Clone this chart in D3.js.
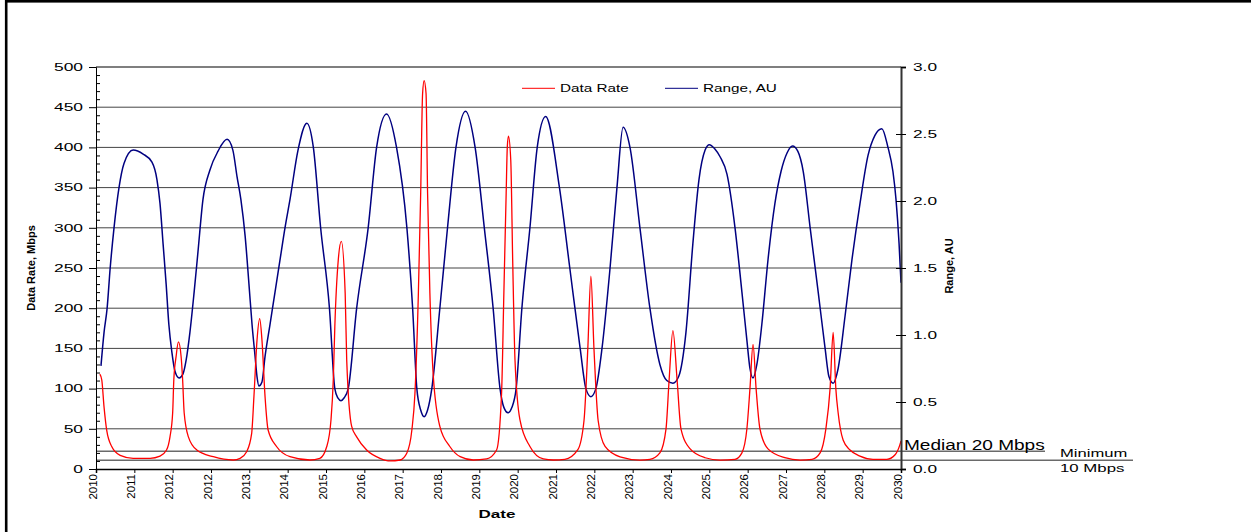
<!DOCTYPE html>
<html>
<head>
<meta charset="utf-8">
<script src="https://cdn.jsdelivr.net/npm/d3@7"></script>
<style>
  body { margin: 0; background: #fff; }
  svg { display: block; font-family: "Liberation Sans", Arial, sans-serif; }
</style>
</head>
<body>
<svg id="chart"></svg>
<script>
// ─── Data ─────────────────────────────────────────────────────────────────────
// x positions are in tick units along the date axis (0 = first label, 21 = last).
const tickLabels = [
  "2010", "2011", "2012", "2012", "2013", "2014", "2015", "2016", "2017", "2018", "2019",
  "2020", "2021", "2022", "2023", "2024", "2025", "2026", "2027", "2028", "2029", "2030"
];
const rateTicks  = [0, 50, 100, 150, 200, 250, 300, 350, 400, 450, 500];
const rangeTicks = [0, 0.5, 1.0, 1.5, 2.0, 2.5, 3.0];

const medianRate  = 22;   // "Median 20 Mbps" reference line
const minimumRate = 11;   // "Minimum 10 Mbps" reference line

// Range, AU (blue, right axis)
const rangeT = [
  0.13, 0.21, 0.29, 0.37, 0.47, 0.60, 0.73, 0.97, 1.23, 1.46, 1.59, 1.67, 1.75, 1.83, 1.90,
  1.98, 2.06, 2.17, 2.27, 2.35, 2.45, 2.56, 2.66, 2.79, 2.97, 3.18, 3.42, 3.57, 3.68, 3.78,
  3.89, 3.99, 4.07, 4.15, 4.20, 4.25, 4.33, 4.41, 4.54, 4.67, 4.80, 4.93, 5.06, 5.27, 5.50,
  5.67, 5.86, 6.09, 6.23, 6.31, 6.39, 6.47, 6.58, 6.80, 7.10, 7.32, 7.58, 7.84, 8.11, 8.26,
  8.37, 8.47, 8.56, 8.65, 8.76, 8.97, 9.17, 9.39, 9.64, 9.89, 10.13, 10.36, 10.54, 10.64, 10.75,
  10.85, 10.96, 11.11, 11.32, 11.51, 11.73, 12.09, 12.36, 12.63, 12.78, 12.91, 13.04, 13.20, 13.41, 13.59,
  13.75, 13.93, 14.19, 14.45, 14.71, 14.89, 15.05, 15.20, 15.39, 15.57, 15.73, 15.89, 16.00, 16.14, 16.28,
  16.46, 16.67, 16.85, 16.98, 17.06, 17.14, 17.24, 17.37, 17.53, 17.71, 17.87, 18.03, 18.17, 18.31, 18.45,
  18.63, 18.84, 19.02, 19.12, 19.23, 19.36, 19.54, 19.72, 19.93, 20.14, 20.32, 20.50, 20.66, 20.79, 20.87,
  20.95, 21.00
];
const rangeAU = [
  0.77, 1.02, 1.20, 1.50, 1.80, 2.10, 2.28, 2.38, 2.35, 2.29, 2.16, 1.98, 1.68, 1.38, 1.08,
  0.87, 0.73, 0.68, 0.71, 0.81, 1.02, 1.32, 1.62, 2.01, 2.23, 2.37, 2.46, 2.38, 2.18, 2.01,
  1.74, 1.38, 1.08, 0.84, 0.69, 0.62, 0.65, 0.84, 1.08, 1.32, 1.56, 1.80, 2.01, 2.38, 2.58,
  2.40, 1.80, 1.20, 0.60, 0.53, 0.51, 0.53, 0.60, 1.20, 1.80, 2.40, 2.65, 2.40, 1.80, 1.20,
  0.60, 0.44, 0.39, 0.44, 0.60, 1.20, 1.80, 2.40, 2.67, 2.40, 1.80, 1.20, 0.60, 0.46, 0.42,
  0.46, 0.60, 1.20, 1.80, 2.40, 2.63, 2.10, 1.50, 0.90, 0.60, 0.54, 0.60, 0.90, 1.50, 2.10,
  2.55, 2.40, 1.80, 1.20, 0.78, 0.66, 0.64, 0.69, 1.02, 1.68, 2.16, 2.38, 2.42, 2.39, 2.33,
  2.20, 1.80, 1.32, 0.96, 0.75, 0.68, 0.78, 1.08, 1.56, 1.98, 2.22, 2.36, 2.41, 2.37, 2.22,
  1.80, 1.32, 0.90, 0.69, 0.64, 0.75, 1.14, 1.56, 1.98, 2.34, 2.49, 2.54, 2.40, 2.22, 2.01,
  1.68, 1.39
];

// Data Rate, Mbps (red, left axis)
const rateT = [
  0.10, 0.15, 0.21, 0.28, 0.41, 0.63, 0.97, 1.41, 1.67, 1.84, 1.93, 2.00, 2.03, 2.09, 2.15,
  2.22, 2.26, 2.30, 2.41, 2.63, 3.06, 3.58, 3.76, 3.93, 4.06, 4.12, 4.20, 4.27, 4.33, 4.41,
  4.49, 4.71, 5.06, 5.58, 5.84, 6.02, 6.13, 6.19, 6.23, 6.32, 6.40, 6.50, 6.54, 6.67, 6.80,
  7.06, 7.41, 7.67, 7.93, 8.11, 8.24, 8.32, 8.41, 8.47, 8.52, 8.56, 8.61, 8.65, 8.71, 8.80,
  8.97, 9.23, 9.50, 9.84, 10.19, 10.45, 10.58, 10.64, 10.70, 10.73, 10.76, 10.82, 10.87, 10.93, 11.06,
  11.32, 11.67, 11.93, 12.23, 12.57, 12.73, 12.83, 12.91, 12.99, 13.10, 13.28, 13.67, 14.19, 14.45, 14.71,
  14.87, 14.95, 15.05, 15.16, 15.26, 15.50, 15.89, 16.28, 16.67, 16.85, 16.98, 17.06, 17.14, 17.22, 17.32,
  17.53, 17.97, 18.37, 18.68, 18.89, 19.04, 19.15, 19.23, 19.30, 19.36, 19.49, 19.67, 19.93, 20.27, 20.63,
  20.84, 20.97, 21.00
];
const rateMbps = [
  118, 111, 77, 48, 28, 17, 13.3, 13.3, 16, 23.6, 40, 70, 111, 140, 158,
  140, 111, 70, 40, 23.6, 15.3, 11.2, 13.3, 21.5, 44, 90, 160, 187, 160, 90,
  48.5, 28, 15.3, 11.2, 13.3, 28, 61, 111, 177, 260, 283, 219, 136, 53, 40,
  23.6, 13.3, 10, 11.2, 20, 48.5, 94, 219, 343, 467, 483, 467, 343, 219, 115,
  53, 28, 15.3, 11.2, 12.5, 23.6, 94, 219, 343, 401, 414, 384, 260, 136, 61,
  28, 12.5, 11.2, 12, 24, 60, 150, 240, 150, 60, 28, 15, 11, 12, 20,
  50, 110, 172, 110, 50, 25, 14, 11, 12, 20, 50, 100, 155, 100, 50,
  25, 14, 11, 12, 20, 50, 100, 170, 100, 70, 36, 23.6, 16, 12, 12,
  17.4, 30, 35
];

// ─── Configuration ────────────────────────────────────────────────────────────
const CONFIG = {
  svg: { width: 1251, height: 532, margin: { top: 67, right: 350, bottom: 63, left: 96 } },
  colors: { rate: "#ff0000", range: "#000080", grid: "#444", refLine: "#6a6a6a" },
  medianLineEnd: 1045,
  minimumLineEnd: 1133
};

const innerW = CONFIG.svg.width - CONFIG.svg.margin.left - CONFIG.svg.margin.right;
const innerH = CONFIG.svg.height - CONFIG.svg.margin.top - CONFIG.svg.margin.bottom;

// ─── Scales ───────────────────────────────────────────────────────────────────
const x      = d3.scaleLinear().domain([0, tickLabels.length - 1]).range([0, innerW]);
const yRate  = d3.scaleLinear().domain([0, 500]).range([innerH, 0]);
const yRange = d3.scaleLinear().domain([0, 3]).range([innerH, 0]);

// ─── SVG setup ────────────────────────────────────────────────────────────────
const svg = d3.select("#chart")
  .attr("width", CONFIG.svg.width)
  .attr("height", CONFIG.svg.height);

// outer frame (only top and left edges fall inside the picture)
svg.append("rect")
  .attr("x", 6.2).attr("y", 1.3)
  .attr("width", 2000).attr("height", 1000)
  .attr("fill", "none").attr("stroke", "#000").attr("stroke-width", 2.6);

const root = svg.append("g")
  .attr("transform", `translate(${CONFIG.svg.margin.left},${CONFIG.svg.margin.top})`);

// Text that looks horizontally stretched, as in the source picture.
function stretchedText(parent, { x: tx, y: ty, text, size, sx = 1, anchor = "start", weight = "normal" }) {
  return parent.append("text")
    .attr("transform", `translate(${tx},${ty}) scale(${sx},1)`)
    .attr("text-anchor", anchor)
    .attr("font-size", size)
    .attr("font-weight", weight)
    .attr("fill", "#000")
    .text(text);
}

// ─── Gridlines ────────────────────────────────────────────────────────────────
root.append("g").selectAll("line")
  .data(rateTicks.filter(v => v > 0 && v < 500))
  .join("line")
  .attr("x1", 0).attr("x2", innerW)
  .attr("y1", d => yRate(d)).attr("y2", d => yRate(d))
  .attr("stroke", CONFIG.colors.grid).attr("stroke-width", 1);

// top edge of the plot
root.append("line")
  .attr("x1", 0).attr("x2", innerW)
  .attr("y1", yRate(500)).attr("y2", yRate(500))
  .attr("stroke", "#000").attr("stroke-width", 1.2);

// Median / minimum reference lines run past the plot into the annotation area
root.append("line")
  .attr("x1", 0).attr("x2", CONFIG.medianLineEnd - CONFIG.svg.margin.left)
  .attr("y1", yRate(medianRate)).attr("y2", yRate(medianRate))
  .attr("stroke", CONFIG.colors.refLine).attr("stroke-width", 1.5);
root.append("line")
  .attr("x1", 0).attr("x2", CONFIG.minimumLineEnd - CONFIG.svg.margin.left)
  .attr("y1", yRate(minimumRate)).attr("y2", yRate(minimumRate))
  .attr("stroke", CONFIG.colors.refLine).attr("stroke-width", 1.5);

// ─── Series ───────────────────────────────────────────────────────────────────
const rangeData = d3.zip(rangeT, rangeAU).map(([t, v]) => ({ t, v }));
const rateData  = d3.zip(rateT, rateMbps).map(([t, v]) => ({ t, v }));

root.append("path")
  .datum(rangeData)
  .attr("fill", "none")
  .attr("stroke", CONFIG.colors.range)
  .attr("stroke-width", 1.5)
  .attr("d", d3.line().x(d => x(d.t)).y(d => yRange(d.v)).curve(d3.curveMonotoneX));

root.append("path")
  .datum(rateData)
  .attr("fill", "none")
  .attr("stroke", CONFIG.colors.rate)
  .attr("stroke-width", 1.3)
  .attr("d", d3.line().x(d => x(d.t)).y(d => yRate(d.v)).curve(d3.curveMonotoneX));

// ─── Axes ─────────────────────────────────────────────────────────────────────
function styleAxisText(g, size, sx) {
  g.attr("font-family", null).attr("font-size", null);
  g.selectAll(".tick text").each(function () {
    const t = d3.select(this);
    const tx = +t.attr("x") || 0;
    t.attr("x", 0)
      .attr("font-size", size)
      .attr("fill", "#000")
      .attr("transform", `translate(${tx},0) scale(${sx},1)`);
  });
}

// left (Data Rate)
const leftAxis = root.append("g")
  .call(d3.axisLeft(yRate).tickValues(rateTicks).tickSize(7).tickPadding(6));
leftAxis.selectAll("line, path").attr("stroke", "#000");
styleAxisText(leftAxis, 10, 1.74);

// minor ticks pointing into the plot
root.append("g")
  .call(d3.axisRight(yRate).tickValues(d3.range(0, 501, 10).filter(v => v % 50 !== 0)).tickSize(4).tickFormat(""))
  .call(g => g.select(".domain").remove())
  .selectAll("line").attr("stroke", "#000");

// right (Range, AU)
const rightAxis = root.append("g")
  .attr("transform", `translate(${innerW},0)`)
  .call(d3.axisRight(yRange).tickValues(rangeTicks).tickSize(5).tickPadding(7).tickFormat(d3.format(".1f")));
rightAxis.select(".domain").attr("stroke", "#333").attr("stroke-width", 2);
rightAxis.selectAll(".tick line")
  .attr("stroke", "#000")
  .attr("x1", d => (d === 3 ? 0 : -5));
styleAxisText(rightAxis, 10, 1.73);

// bottom (Date)
const bottomAxis = root.append("g")
  .attr("transform", `translate(0,${innerH})`)
  .call(d3.axisBottom(x).tickValues(d3.range(tickLabels.length)).tickSize(4).tickFormat(i => tickLabels[i]));
bottomAxis.attr("font-family", null).attr("font-size", null);
bottomAxis.selectAll("line, path").attr("stroke", "#000");
bottomAxis.select(".domain").attr("stroke-width", 1.5);
bottomAxis.selectAll(".tick text")
  .attr("transform", "rotate(-90)")
  .attr("text-anchor", "end")
  .attr("x", -5).attr("y", 0).attr("dy", "0")
  .attr("font-size", 11.5)
  .attr("fill", "#000");

// ─── Axis titles ──────────────────────────────────────────────────────────────
stretchedText(svg, { x: 497, y: 518, text: "Date", size: 11, sx: 1.55, anchor: "middle", weight: "bold" });

svg.append("text")
  .attr("transform", "translate(35,268) rotate(-90)")
  .attr("text-anchor", "middle")
  .attr("font-size", 11).attr("font-weight", "bold")
  .text("Data Rate, Mbps");

svg.append("text")
  .attr("transform", "translate(952.5,266) rotate(-90)")
  .attr("text-anchor", "middle")
  .attr("font-size", 11).attr("font-weight", "bold")
  .text("Range, AU");

// ─── Legend ───────────────────────────────────────────────────────────────────
const legendItems = [
  { label: "Data Rate", color: CONFIG.colors.rate,  x0: 522 },
  { label: "Range, AU", color: CONFIG.colors.range, x0: 665 }
];
const legend = svg.append("g");
legendItems.forEach(item => {
  legend.append("line")
    .attr("x1", item.x0).attr("x2", item.x0 + 33)
    .attr("y1", 88.3).attr("y2", 88.3)
    .attr("stroke", item.color).attr("stroke-width", 1);
  stretchedText(legend, { x: item.x0 + 38, y: 91.5, text: item.label, size: 11.5, sx: 1.33 });
});

// ─── Reference-line annotations ───────────────────────────────────────────────
stretchedText(svg, { x: 904, y: 449.5, text: "Median 20 Mbps", size: 14, sx: 1.36 });
stretchedText(svg, { x: 1060, y: 457.3, text: "Minimum", size: 10.5, sx: 1.58 });
stretchedText(svg, { x: 1060, y: 471.7, text: "10 Mbps", size: 10.5, sx: 1.6 });
</script>
</body>
</html>
